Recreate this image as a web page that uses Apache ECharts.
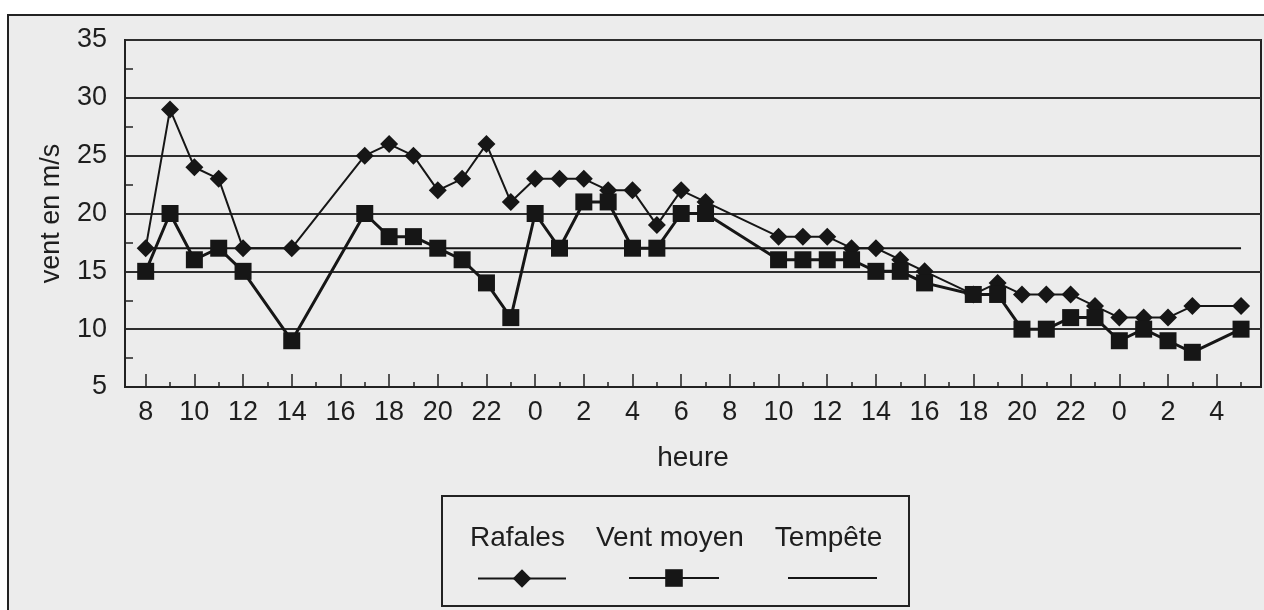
<!DOCTYPE html>
<html>
<head>
<meta charset="utf-8">
<script src="https://cdn.jsdelivr.net/npm/echarts@6/dist/echarts.min.js"></script>
<style>
  html, body { margin: 0; padding: 0; background: #ffffff; overflow: hidden; }
  /* cadre extérieur du scan */
  #cadre { position: absolute; left: 7px; top: 14px; width: 1300px; height: 700px;
           border: 2px solid #222; background: #ececec; }
  #main { position: absolute; left: 0; top: 0; width: 1264px; height: 610px; }
</style>
</head>
<body>
<div id="cadre"></div>
<div id="main"></div>
<script>
// heures relevées (du jour 1 à 8h jusqu'au jour 3 à 5h)
var heures = [
  8, 9, 10, 11, 12, 13, 14, 15, 16, 17, 18, 19, 20, 21, 22, 23,
  0, 1, 2, 3, 4, 5, 6, 7, 8, 9, 10, 11, 12, 13, 14, 15, 16, 17, 18, 19, 20, 21, 22, 23,
  0, 1, 2, 3, 4, 5
];
// rafales en m/s (null = pas de mesure)
var rafales = [
  17, 29, 24, 23, 17, null, 17, null, null, 25, 26, 25, 22, 23, 26, 21,
  23, 23, 23, 22, 22, 19, 22, 21, null, null, 18, 18, 18, 17, 17, 16, 15, null, 13, 14, 13, 13, 13, 12,
  11, 11, 11, 12, null, 12
];
// vent moyen en m/s
var ventMoyen = [
  15, 20, 16, 17, 15, null, 9, null, null, 20, 18, 18, 17, 16, 14, 11,
  20, 17, 21, 21, 17, 17, 20, 20, null, null, 16, 16, 16, 16, 15, 15, 14, null, 13, 13, 10, 10, 11, 11,
  9, 10, 9, 8, null, 10
];
// seuil de tempête
var seuilTempete = 17;

var police = "'Liberation Sans', Arial, sans-serif";
var noir = '#161616';
var texte = '#1e1e1e';

function points(valeurs) {
  var res = [];
  for (var i = 0; i < valeurs.length; i++) {
    if (valeurs[i] !== null) res.push([i, valeurs[i]]);
  }
  return res;
}
var pairs = [], impairs = [];
for (var i = 0; i < heures.length; i++) {
  if (i % 2 === 0) pairs.push(i); else impairs.push(i);
}
var dernier = heures.length - 1;

var myChart = echarts.init(document.getElementById('main'), null, { renderer: 'canvas' });

var option = {
  animation: false,
  backgroundColor: 'transparent',
  textStyle: { fontFamily: police, color: texte },
  grid: {
    left: 125, right: 3, top: 40, bottom: 223,
    show: true, borderColor: '#222', borderWidth: 2, backgroundColor: 'transparent'
  },
  xAxis: [
    {
      type: 'value', position: 'bottom',
      min: -0.85, max: 45.82,
      name: 'heure', nameLocation: 'middle', nameGap: 57,
      nameTextStyle: { fontSize: 28, color: texte, fontFamily: police },
      axisLine: { show: true, onZero: false, lineStyle: { color: '#222', width: 2 } },
      axisTick: { show: true, inside: true, length: 13, customValues: pairs,
                  lineStyle: { color: '#222', width: 1.5 } },
      axisLabel: { show: true, customValues: pairs, margin: 12, fontSize: 27, color: texte,
                   fontFamily: police,
                   formatter: function (v) { return String(heures[Math.round(v)]); } },
      splitLine: { show: false }
    },
    {
      type: 'value', position: 'bottom',
      min: -0.85, max: 45.82,
      axisLine: { show: false, onZero: false },
      axisTick: { show: true, inside: true, length: 5, customValues: impairs,
                  lineStyle: { color: '#222', width: 1.5 } },
      axisLabel: { show: false },
      splitLine: { show: false }
    }
  ],
  yAxis: {
    type: 'value', min: 5, max: 35, interval: 5,
    name: 'vent en m/s', nameLocation: 'middle', nameGap: 60, nameRotate: 90,
    nameTextStyle: { fontSize: 27, color: texte, fontFamily: police },
    axisLine: { show: true, onZero: false, lineStyle: { color: '#222', width: 2 } },
    axisTick: { show: false, inside: true },
    minorTick: { show: true, splitNumber: 2, length: 8, lineStyle: { color: '#222', width: 1.5 } },
    axisLabel: { margin: 18, fontSize: 27, color: texte, fontFamily: police },
    splitLine: { show: true, lineStyle: { color: '#2e2e2e', width: 1.8 } }
  },
  legend: [
    // libellés au-dessus
    {
      data: ['Rafales', 'Vent moyen', 'Tempête'],
      left: 460, top: 519, orient: 'horizontal',
      icon: 'none', itemWidth: 0, itemHeight: 0, itemGap: 26,
      selectedMode: false,
      textStyle: { fontSize: 28, color: texte, fontFamily: police }
    },
    // pictogrammes en dessous
    {
      data: ['Rafales'], left: 472, top: 562,
      itemWidth: 88, itemHeight: 23, selectedMode: false,
      formatter: function () { return ''; }
    },
    {
      data: ['Vent moyen'], left: 623, top: 562,
      itemWidth: 90, itemHeight: 22, selectedMode: false,
      formatter: function () { return ''; }
    },
    {
      data: ['Tempête'], left: 783, top: 572,
      icon: 'rect', itemWidth: 89, itemHeight: 2, selectedMode: false,
      itemStyle: { color: noir },
      formatter: function () { return ''; }
    }
  ],
  graphic: [
    {
      type: 'rect', left: 441, top: 495, silent: true,
      shape: { width: 467, height: 110 },
      style: { fill: 'transparent', stroke: '#222', lineWidth: 2 }
    }
  ],
  series: [
    {
      name: 'Tempête', type: 'line', z: 1,
      data: [[0, seuilTempete], [dernier, seuilTempete]],
      symbol: 'none', showSymbol: false,
      lineStyle: { color: noir, width: 2 },
      itemStyle: { color: noir }
    },
    {
      name: 'Rafales', type: 'line', z: 2,
      data: points(rafales), connectNulls: true,
      symbol: 'diamond', symbolSize: 18,
      lineStyle: { color: noir, width: 2 },
      itemStyle: { color: noir }
    },
    {
      name: 'Vent moyen', type: 'line', z: 3,
      data: points(ventMoyen), connectNulls: true,
      symbol: 'rect', symbolSize: 17,
      lineStyle: { color: noir, width: 3 },
      itemStyle: { color: noir }
    }
  ]
};

myChart.setOption(option);
</script>
</body>
</html>
